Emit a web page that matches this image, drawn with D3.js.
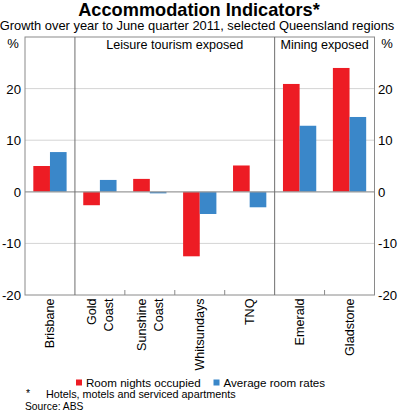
<!DOCTYPE html>
<html lang="en">
<head>
    <meta charset="UTF-8">
    <script src="https://cdnjs.cloudflare.com/ajax/libs/d3/7.8.5/d3.min.js"></script>
    <style>
        body { margin: 0; background: #fff; }
        svg { font-family: "Liberation Sans", Arial, sans-serif; }
    </style>
</head>
<body>
    <svg width="400" height="412"></svg>
    <script>
        const regions = [['Brisbane'], ['Gold', 'Coast'], ['Sunshine', 'Coast'], ['Whitsundays'], ['TNQ'], ['Emerald'], ['Gladstone']];
        const seriesNames = ['Room nights occupied', 'Average room rates'];
        const roomNights = [5.0, -2.6, 2.5, -12.5, 5.1, 20.9, 24.0];
        const roomRates = [7.7, 2.3, -0.3, -4.3, -3.0, 12.8, 14.5];
        const yTicks = [-20, -10, 0, 10, 20];
        const panels = [
            { label: 'Leisure tourism exposed', from: 1, to: 5 },
            { label: 'Mining exposed', from: 5, to: 7 }
        ];
        const colors = ['#ed1c24', '#3a87c9'];

        const svg = d3.select('svg');
        const plotL = 25, plotR = 374.5, plotT = 37, plotB = 295;

        const keys = regions.map((r, i) => i);
        const x = d3.scaleBand().domain(keys).range([plotL, plotR]);
        const xSub = d3.scaleBand().domain([0, 1]).range([0, x.bandwidth()]).paddingOuter(0.5);
        const y = d3.scaleLinear().domain([-20, 30]).range([plotB, plotT]);

        // titles
        svg.append('text').attr('x', 199).attr('y', 15.5).attr('text-anchor', 'middle')
            .style('font-size', '18.2px').style('font-weight', 'bold').text('Accommodation Indicators*');
        svg.append('text').attr('x', 197).attr('y', 29.5).attr('text-anchor', 'middle')
            .style('font-size', '12.9px').text('Growth over year to June quarter 2011, selected Queensland regions');

        // gridlines
        svg.selectAll('.grid').data(yTicks.filter(t => t !== 0 && t !== -20)).enter()
            .append('line')
            .attr('x1', plotL).attr('x2', plotR)
            .attr('y1', d => y(d)).attr('y2', d => y(d))
            .style('stroke', '#d4d4d4').style('stroke-width', 1);

        // bars
        const data = keys.map(i => [roomNights[i], roomRates[i]]);
        const g = svg.selectAll('.cat').data(data).enter().append('g')
            .attr('transform', (d, i) => `translate(${x(i)},0)`);
        g.selectAll('rect').data(d => d).enter().append('rect')
            .attr('x', (d, j) => xSub(j))
            .attr('width', xSub.bandwidth())
            .attr('y', d => y(Math.max(0, d)))
            .attr('height', d => Math.abs(y(d) - y(0)))
            .style('fill', (d, j) => colors[j]);

        // zero line
        svg.append('line').attr('x1', plotL).attr('x2', plotR)
            .attr('y1', y(0)).attr('y2', y(0))
            .style('stroke', '#9a9a9a').style('stroke-width', 1.3);

        // border
        svg.append('rect').attr('x', plotL).attr('y', plotT)
            .attr('width', plotR - plotL).attr('height', plotB - plotT)
            .style('fill', 'none').style('stroke', '#8a8a8a').style('stroke-width', 1);

        // panel dividers and labels
        panels.forEach(p => {
            svg.append('line').attr('x1', x(p.from)).attr('x2', x(p.from))
                .attr('y1', plotT).attr('y2', plotB)
                .style('stroke', '#6e6e6e').style('stroke-width', 1);
            const end = p.to < keys.length ? x(p.to) : plotR;
            svg.append('text').attr('x', (x(p.from) + end) / 2).attr('y', 49)
                .attr('text-anchor', 'middle').style('font-size', '12.6px')
                .text(p.label);
        });

        // bottom ticks
        const dividers = panels.map(p => p.from);
        svg.selectAll('.xtick').data(keys.slice(1).filter(i => !dividers.includes(i))).enter()
            .append('line')
            .attr('x1', d => x(d)).attr('x2', d => x(d))
            .attr('y1', plotB).attr('y2', plotB - 5)
            .style('stroke', '#8a8a8a');

        // y tick labels
        svg.selectAll('.yl').data(yTicks).enter().append('text')
            .attr('x', 21).attr('y', d => y(d) + 5).attr('text-anchor', 'end')
            .style('font-size', '13.2px').text(d => d);
        svg.selectAll('.yr').data(yTicks).enter().append('text')
            .attr('x', 378).attr('y', d => y(d) + 5).attr('text-anchor', 'start')
            .style('font-size', '13.2px').text(d => d);
        svg.append('text').attr('x', 13).attr('y', 47.5).attr('text-anchor', 'middle')
            .style('font-size', '13px').text('%');
        svg.append('text').attr('x', 387).attr('y', 47.5).attr('text-anchor', 'middle')
            .style('font-size', '13px').text('%');

        // category labels
        regions.forEach((lines, i) => {
            const cx = x(i) + x.bandwidth() / 2;
            lines.forEach((t, k) => {
                const lx = cx + (k - (lines.length - 1) / 2) * 16.5;
                svg.append('text')
                    .attr('transform', `translate(${lx + 4.5},${plotB + 3.5}) rotate(-90)`)
                    .attr('text-anchor', 'end')
                    .style('font-size', '12.6px').text(t);
            });
        });

        // legend
        const legend = [{ x: 76 }, { x: 213.5 }];
        legend.forEach((l, j) => {
            svg.append('rect').attr('x', l.x).attr('y', 379.5).attr('width', 6).attr('height', 6)
                .style('fill', colors[j]);
            svg.append('text').attr('x', l.x + 10).attr('y', 386.5)
                .style('font-size', '11.6px').text(seriesNames[j]);
        });

        // footnotes
        svg.append('text').attr('x', 26).attr('y', 397).style('font-size', '10.5px').text('*');
        svg.append('text').attr('x', 46).attr('y', 398.3).style('font-size', '10.8px')
            .text('Hotels, motels and serviced apartments');
        svg.append('text').attr('x', 25).attr('y', 410).style('font-size', '10.3px')
            .text('Source: ABS');
    </script>
</body>
</html>
